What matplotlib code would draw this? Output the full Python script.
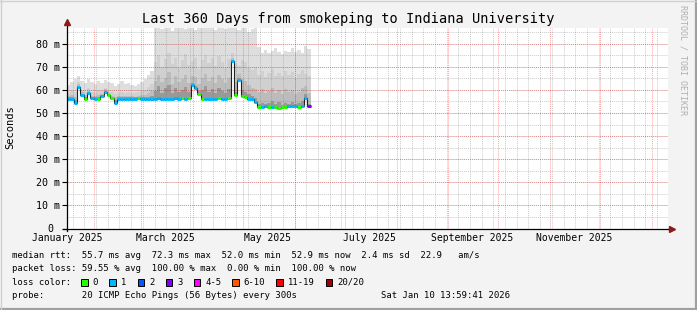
import pandas as pd
import matplotlib
matplotlib.use("Agg")
import matplotlib.pyplot as plt
import matplotlib.dates as mdates
from matplotlib.patches import Rectangle

W, H = 697, 310
MONO = "DejaVu Sans Mono"

t_start = pd.Timestamp("2025-01-15 14:00")
t_end = pd.Timestamp("2026-01-10 14:00")

# 2-day consolidation steps, data stops early June
bin_edges = pd.date_range(t_start, periods=74, freq="2D")

median = [56.0, 56.0, 54.3, 61.1, 57.8, 56.2, 58.6, 56.3, 56.0, 56.2,
          57.2, 59.0, 57.6, 56.4, 54.3, 56.0, 56.1, 56.0, 56.2, 56.0,
          56.0, 56.3, 56.0, 56.1, 56.0, 56.2, 56.0, 56.3, 56.0, 56.1,
          56.2, 56.0, 56.3, 56.0, 56.4, 56.0, 56.5, 62.1, 60.8, 58.4,
          56.2, 56.0, 56.1, 56.0, 56.2, 56.3, 56.0, 56.1, 56.4, 72.3,
          57.6, 64.3, 57.2, 56.8, 56.2, 56.0, 54.6, 52.7, 52.6, 52.8,
          52.4, 52.7, 52.5, 52.3, 52.6, 52.4, 52.8, 53.2, 53.0, 52.6,
          52.8, 56.6, 52.9]

# lost pings out of 20 for each step
loss = [1, 1, 1, 1, 1, 0, 1, 1, 1, 0,
        1, 1, 0, 0, 1, 1, 1, 1, 1, 1,
        1, 0, 1, 1, 1, 1, 1, 1, 1, 1,
        1, 1, 1, 1, 0, 1, 0, 1, 1, 0,
        0, 1, 1, 1, 1, 0, 1, 1, 0, 1,
        0, 1, 0, 0, 1, 1, 1, 0, 1, 1,
        0, 1, 0, 0, 0, 0, 1, 1, 1, 0,
        1, 1, 3]

smoke_top = [62.0, 63.5, 64.5, 65.8, 64.0, 63.0, 64.5, 63.2, 62.5, 63.8,
             63.0, 64.2, 63.5, 62.8, 61.6, 62.5, 63.7, 62.4, 63.0, 62.2,
             61.8, 62.6, 63.4, 64.8, 66.5, 68.0, 87.5, 88.0, 86.5, 88.0,
             87.8, 85.5, 88.0, 87.0, 88.0, 86.2, 88.0, 87.5, 85.8, 88.0,
             87.2, 88.0, 86.8, 88.0, 85.9, 87.6, 88.0, 86.5, 88.0, 87.3,
             88.0, 86.0, 87.8, 88.0, 85.2, 86.4, 87.6, 78.5, 76.0, 77.2,
             75.8, 76.8, 78.0, 76.4, 75.5, 77.0, 76.2, 78.2, 76.6, 77.4,
             75.9, 78.8, 77.5]

smoke_2 = [58.8, 59.5, 59.0, 63.5, 60.0, 59.2, 60.6, 59.0, 58.6, 59.3,
           59.5, 61.0, 59.6, 59.0, 58.4, 58.8, 59.2, 58.6, 59.0, 58.8,
           58.5, 59.0, 59.4, 60.0, 61.2, 62.5, 72.0, 75.0, 70.0, 73.5,
           76.0, 71.0, 74.0, 69.5, 73.0, 75.5, 70.8, 72.5, 74.0, 69.0,
           72.8, 75.0, 71.5, 73.8, 70.2, 74.5, 72.0, 69.8, 73.2, 76.0,
           71.0, 70.5, 73.0, 72.2, 69.6, 68.5, 70.0, 66.5, 68.0, 65.5,
           67.2, 69.0, 66.0, 67.5, 65.8, 68.2, 66.4, 67.8, 65.2, 66.8,
           68.5, 67.0, 66.0]

smoke_3 = [57.3, 57.6, 57.0, 62.5, 58.9, 57.6, 59.8, 57.5, 57.2, 57.6,
           58.3, 60.2, 58.5, 57.4, 56.8, 57.2, 57.5, 57.2, 57.4, 57.3,
           57.1, 57.4, 57.6, 57.9, 58.5, 59.5, 64.0, 66.5, 63.3, 65.3,
           67.7, 62.7, 66.0, 63.5, 64.7, 66.5, 63.1, 66.0, 65.7, 62.7,
           65.0, 66.7, 63.7, 65.5, 62.9, 66.3, 64.5, 63.1, 65.3, 74.0,
           63.5, 66.8, 64.7, 64.0, 62.3, 61.0, 60.5, 59.0, 60.2, 58.6,
           59.6, 61.0, 58.8, 59.8, 58.4, 60.4, 59.0, 60.0, 58.2, 59.2,
           60.6, 61.5, 58.5]

smoke_4 = [56.8, 56.9, 55.6, 61.8, 58.4, 56.9, 59.2, 57.0, 56.7, 56.9,
           57.8, 59.6, 58.0, 57.0, 55.4, 56.7, 56.8, 56.7, 56.9, 56.7,
           56.7, 57.0, 56.8, 56.9, 57.0, 57.2, 59.5, 61.5, 58.8, 60.6,
           62.0, 58.6, 60.8, 59.2, 60.0, 61.2, 59.0, 63.0, 61.5, 59.4,
           59.8, 61.6, 59.0, 60.4, 58.8, 60.8, 59.6, 58.8, 60.2, 73.0,
           59.0, 65.0, 59.8, 59.2, 58.0, 57.2, 56.5, 54.0, 54.5, 53.8,
           54.2, 55.0, 53.9, 54.6, 53.6, 54.4, 54.0, 54.8, 53.8, 54.2,
           55.2, 58.0, 54.0]

month_labels = ["January 2025", "March 2025", "May 2025",
                "July 2025", "September 2025", "November 2025"]
label_dates = ["2025-01-15 14:00", "2025-03-15 12:00", "2025-05-15 12:00",
               "2025-07-15 12:00", "2025-09-15 12:00", "2025-11-15 12:00"]

yticks = [0, 10, 20, 30, 40, 50, 60, 70, 80]
ytick_labels = ["0 ", "10 m", "20 m", "30 m", "40 m", "50 m", "60 m", "70 m", "80 m"]

legend_lines = [
    "median rtt:  55.7 ms avg  72.3 ms max  52.0 ms min  52.9 ms now  2.4 ms sd  22.9   am/s",
    "packet loss: 59.55 % avg  100.00 % max  0.00 % min  100.00 % now",
    "loss color:",
    "probe:       20 ICMP Echo Pings (56 Bytes) every 300s",
]
loss_names = ["0", "1", "2", "3", "4-5", "6-10", "11-19", "20/20"]
loss_cols = ["#26ff00", "#00b8ff", "#0059ff", "#7e00ff",
             "#ff00ff", "#ff5500", "#ff0000", "#a10000"]


def loss_color(n):
    if n <= 3:
        return loss_cols[n]
    if n <= 5:
        return loss_cols[4]
    if n <= 10:
        return loss_cols[5]
    if n <= 19:
        return loss_cols[6]
    return loss_cols[7]


def fx(px):
    return px / W


def fy(py):
    return 1 - py / H


fig = plt.figure(figsize=(W / 100, H / 100), dpi=100, facecolor="#f3f3f3")
ax = fig.add_axes([fx(67), fy(228.5), 601 / W, 200.8 / H])
ax.set_facecolor("white")
ax.set_xlim(mdates.date2num(t_start), mdates.date2num(t_end))
ax.set_ylim(0, 86.9)
for s in ax.spines.values():
    s.set_visible(False)

edges = mdates.date2num(bin_edges)

# smoke, lightest band first
for vals, col in [(smoke_top, "#dedede"), (smoke_2, "#d0d0d0"),
                  (smoke_3, "#bcbcbc"), (smoke_4, "#999999")]:
    ax.stairs(vals, edges, baseline=median, fill=True, color=col, lw=0, zorder=2)

# grid
dot = (0, (1, 1))
for d in pd.date_range("2025-01-19", "2026-01-10", freq="7D"):
    ax.axvline(mdates.date2num(d), color="#808080", alpha=0.4, lw=0.7, ls=dot, zorder=2.5)
for v in range(5, 87, 5):
    ax.axhline(v, color="#808080", alpha=0.4, lw=0.7, ls=dot, zorder=2.5)
for d in pd.date_range("2025-02-01", "2026-01-01", freq="MS"):
    ax.axvline(mdates.date2num(d), color="#ff0000", alpha=0.35, lw=0.7, ls=dot, zorder=2.6)
for v in range(10, 81, 10):
    ax.axhline(v, color="#ff0000", alpha=0.35, lw=0.7, ls=dot, zorder=2.6)

# median line, dark first then loss colours
ax.stairs(median, edges, baseline=None, color="#202020", lw=0.8, zorder=3)
ax.hlines(median, edges[:-1], edges[1:], colors=[loss_color(n) for n in loss],
          lw=2.2, zorder=4)

# axes with arrows
ax.plot([0, 0], [-0.01, 1 + 4 / 200.8], transform=ax.transAxes, color="black",
        lw=0.9, clip_on=False, zorder=5)
ax.plot([-4 / 601, 1 + 2 / 601], [0, 0], transform=ax.transAxes, color="black",
        lw=0.9, clip_on=False, zorder=5)
ax.plot([0], [1 + 6 / 200.8], marker="^", ms=4, color="#8b1a1a",
        transform=ax.transAxes, clip_on=False, zorder=6)
ax.plot([1 + 4 / 601], [0], marker=">", ms=4, color="#8b1a1a",
        transform=ax.transAxes, clip_on=False, zorder=6)

ax.set_yticks(yticks)
ax.set_yticklabels(ytick_labels, fontfamily=MONO, fontsize=7.2)
ax.tick_params(axis="y", length=3.5, width=0.8, pad=1.5, color="black")
ax.set_xticks(mdates.date2num(pd.to_datetime(label_dates)))
ax.set_xticklabels(month_labels, fontfamily=MONO, fontsize=7)
ax.tick_params(axis="x", length=0, pad=3.5)

fig.text(0.5, fy(23.2), "Last 360 Days from smokeping to Indiana University",
         ha="center", va="baseline", fontfamily=MONO, fontsize=9.8)
fig.text(fx(10), fy(127), "Seconds", rotation=90, ha="center", va="center",
         fontfamily=MONO, fontsize=7.5)
fig.text(fx(683.5), fy(5), "RRDTOOL / TOBI OETIKER", rotation=270, ha="center",
         va="top", fontfamily=MONO, fontsize=6, color="#b0b0b0")

# legend
cw = 5.3
bases = [257.8, 271.3, 284.9, 298.5]
for txt, b in zip(legend_lines, bases):
    fig.text(fx(12.3), fy(b), txt, ha="left", va="baseline",
             fontfamily=MONO, fontsize=6.4)
fig.text(fx(510), fy(298.5), "Sat Jan 10 13:59:41 2026", ha="right",
         va="baseline", fontfamily=MONO, fontsize=6.4)

bx = 81.3
for name, col in zip(loss_names, loss_cols):
    fig.patches.append(Rectangle((fx(bx), fy(285.8)), 6.5 / W, 7.3 / H,
                                 transform=fig.transFigure, facecolor=col,
                                 edgecolor="black", lw=0.7))
    tx = bx + 11.4
    fig.text(fx(tx), fy(284.9), name, ha="left", va="baseline",
             fontfamily=MONO, fontsize=6.4)
    bx = tx + len(name) * cw + 11.4

# frame
fig.add_artist(plt.Line2D([fx(695.5), fx(695.5)], [0, 1], color="#a0a0a0", lw=1.6))
fig.add_artist(plt.Line2D([0, 1], [fy(308.5), fy(308.5)], color="#a0a0a0", lw=1.6))
fig.add_artist(plt.Line2D([0, 1], [fy(0.5), fy(0.5)], color="#d0d0d0", lw=1))
fig.add_artist(plt.Line2D([fx(0.5), fx(0.5)], [0, 1], color="#d0d0d0", lw=1))

fig.savefig("out.png", dpi=100, facecolor=fig.get_facecolor())
